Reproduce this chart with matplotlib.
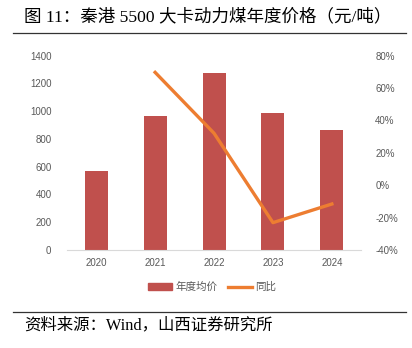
import numpy as np
import matplotlib.pyplot as plt
from matplotlib.ticker import FuncFormatter
from matplotlib.lines import Line2D

plt.rcParams['font.family'] = ['Liberation Sans', 'Noto Sans CJK SC', 'DejaVu Sans']

years = ['2020', '2021', '2022', '2023', '2024']
price = [569, 963, 1273, 985, 865]
yoy = [None, 69.7, 32.1, -23.1, -11.6]

bar_color = '#C0504D'
line_color = '#ED7D31'
tick_color = '#595959'

fig = plt.figure(figsize=(4.12, 3.48), dpi=100)
ax = fig.add_axes([0.162, 0.2816, 0.715, 0.5584])

x = np.arange(len(years))
ax.bar(x, price, width=0.39, color=bar_color, zorder=2)
ax.set_xlim(-0.5, len(years) - 0.5)
ax.set_ylim(0, 1400)
ax.set_yticks(np.arange(0, 1401, 200))
ax.set_xticks(x)
ax.set_xticklabels(years)
for s in ['top', 'right', 'left']:
    ax.spines[s].set_visible(False)
ax.spines['bottom'].set_color('#D9D9D9')
ax.tick_params(axis='both', length=0, labelsize=7, colors=tick_color)
ax.tick_params(axis='y', pad=11)
ax.tick_params(axis='x', pad=6)

ax2 = ax.twinx()
xs = [i for i, v in enumerate(yoy) if v is not None]
ys = [v for v in yoy if v is not None]
ax2.plot(xs, ys, color=line_color, lw=2.4, zorder=3)
ax2.set_ylim(-40, 80)
ax2.set_yticks(np.arange(-40, 81, 20))
ax2.yaxis.set_major_formatter(FuncFormatter(lambda v, p: f'{int(v)}%'))
for s in ['top', 'right', 'left', 'bottom']:
    ax2.spines[s].set_visible(False)
ax2.tick_params(axis='y', length=0, labelsize=7, colors=tick_color, pad=10)

handles = [plt.Rectangle((0, 0), 1, 1, color=bar_color),
           Line2D([0], [0], color=line_color, lw=2.4)]
fig.legend(handles, ['年度均价', '同比'], loc='center', bbox_to_anchor=(0.515, 0.175),
           ncol=2, frameon=False, labelcolor=tick_color,
           handlelength=2.3, handleheight=0.6, columnspacing=1.0, handletextpad=0.3,
           prop={'family': ['Noto Sans CJK SC'], 'size': 7.6})

fig.text(0.058, 0.952, '图 11：秦港 5500 大卡动力煤年度价格（元/吨）', fontsize=12.6,
         family=['Liberation Serif', 'Noto Sans CJK SC'], va='center', ha='left')
fig.add_artist(Line2D([0.032, 0.985], [0.904, 0.904], color='#333333', lw=0.9))
fig.add_artist(Line2D([0.032, 0.985], [0.104, 0.104], color='#333333', lw=0.9))
fig.text(0.058, 0.065, '资料来源：Wind，山西证券研究所', fontsize=11.8,
         family=['Liberation Serif', 'Noto Sans CJK SC'], va='center', ha='left')

fig.savefig('out.png', dpi=100)
